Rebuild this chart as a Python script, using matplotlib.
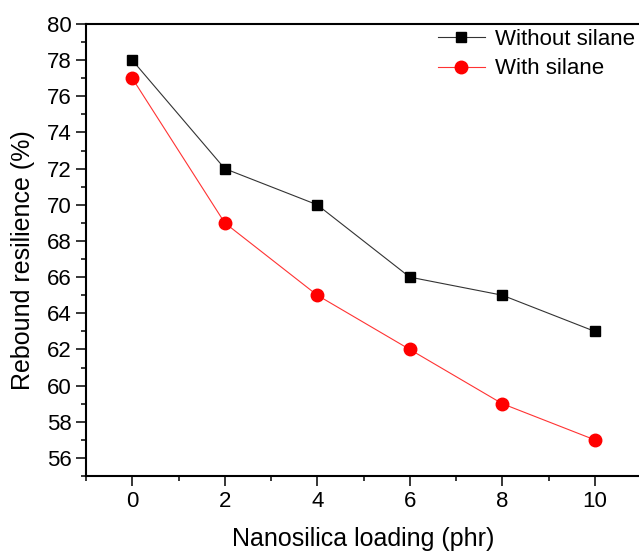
import matplotlib
matplotlib.use("Agg")
import matplotlib.pyplot as plt
from matplotlib.ticker import MultipleLocator

plt.rcParams['font.family'] = ['Liberation Sans', 'DejaVu Sans']

# data
loading = [0, 2, 4, 6, 8, 10]
without_silane = [78, 72, 70, 66, 65, 63]
with_silane = [77, 69, 65, 62, 59, 57]

fig = plt.figure(figsize=(6.39, 5.53), dpi=100)
# axes runs slightly past the right edge, like the reference crop
ax = fig.add_axes([86/639, 77/553, 555/639, 452/553])

ax.plot(loading, without_silane, color='#333333', lw=0.8, marker='s',
        markersize=7.5, markerfacecolor='black', markeredgecolor='black',
        label='Without silane')
ax.plot(loading, with_silane, color='#ff3333', lw=0.8, marker='o',
        markersize=9, markerfacecolor='red', markeredgecolor='red',
        label='With silane')

ax.set_xlim(-1, 11)
ax.set_ylim(55, 80)
ax.xaxis.set_major_locator(MultipleLocator(2))
ax.xaxis.set_minor_locator(MultipleLocator(1))
ax.yaxis.set_major_locator(MultipleLocator(2))
ax.yaxis.set_minor_locator(MultipleLocator(1))

ax.tick_params(which='both', direction='out', width=1.1, top=False, right=False,
               labelsize=16)
ax.tick_params(which='major', length=7)
ax.tick_params(which='minor', length=3.6)
for s in ax.spines.values():
    s.set_linewidth(1.5)

ax.set_xlabel('Nanosilica loading (phr)', fontsize=18)
ax.set_ylabel('Rebound resilience (%)', fontsize=18)
ax.xaxis.set_label_coords(0.5, -0.112)
ax.yaxis.set_label_coords(-0.092, 0.478)

ax.legend(loc='upper left', bbox_to_anchor=(438/639, 1 - 29/553),
          bbox_transform=fig.transFigure, frameon=False, fontsize=16,
          handlelength=2.1, handletextpad=0.45, labelspacing=0.38,
          borderpad=0, borderaxespad=0)

fig.savefig('out.png', dpi=100)
